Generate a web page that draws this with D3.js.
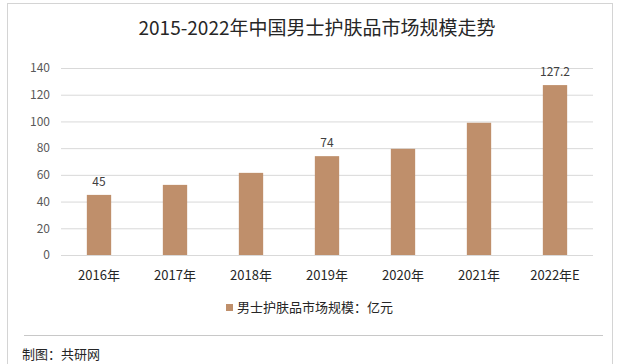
<!DOCTYPE html>
<html>
<head>
<meta charset="utf-8">
<script src="https://cdn.jsdelivr.net/npm/d3@7"></script>
<style>
  body { margin: 0; background: #fff; }
  svg { display: block; font-family: "Noto Sans CJK SC", "Noto Sans", sans-serif; }
  .axis-label { fill: #595959; font-size: 12px; }
</style>
</head>
<body>
<div id="chart"></div>
<script>
// data
const years = ["2016年", "2017年", "2018年", "2019年", "2020年", "2021年", "2022年E"];
const values = [45, 52.5, 61.5, 74, 79.5, 99, 127.2];
const labelled = [45, null, null, 74, null, null, 127.2];   // only these show data labels
const yTicks = [0, 20, 40, 60, 80, 100, 120, 140];

const width = 619, height = 364;
const barColour = "#bf8f6b";
const gridColour = "#d9d9d9";

const svg = d3.select("#chart")
    .append("svg")
    .attr("width", width)
    .attr("height", height);

// outer frame + footer separator
svg.append("rect")
    .attr("x", 7.5).attr("y", 3.5)
    .attr("width", 605).attr("height", 370)
    .attr("fill", "none")
    .attr("stroke", "#d4d4d4");

svg.append("line")
    .attr("x1", 24).attr("x2", 603)
    .attr("y1", 335.5).attr("y2", 335.5)
    .attr("stroke", "#c8c8c8");

// title
svg.append("text")
    .text("2015-2022年中国男士护肤品市场规模走势")
    .attr("x", 317)
    .attr("y", 35)
    .attr("text-anchor", "middle")
    .attr("fill", "#262626")
    .style("font-size", "19px");

// scales
const xScale = d3.scaleBand()
    .domain(years)
    .range([61, 593])
    .paddingInner(0.68)
    .paddingOuter(0.34);

const yScale = d3.scaleLinear()
    .domain([0, 140])
    .range([255, 68]);

// gridlines
svg.append("g")
    .attr("transform", "translate(61,0)")
    .call(d3.axisLeft(yScale).tickValues(yTicks).tickSize(-532).tickFormat(""))
    .call(g => g.select(".domain").remove())
    .call(g => g.selectAll(".tick line").attr("stroke", gridColour));

// y labels
svg.append("g")
    .attr("transform", "translate(50,0)")
    .call(d3.axisLeft(yScale).tickValues(yTicks).tickSize(0).tickPadding(0))
    .call(g => g.select(".domain").remove())
    .call(g => g.selectAll("text")
        .attr("fill", "#595959")
        .style("font-size", "12px")
        .style("font-family", "'Noto Sans CJK SC', sans-serif"));

// bars
svg.selectAll("rect.bar")
    .data(values)
    .join("rect")
        .attr("class", "bar")
        .attr("x", (d, i) => xScale(years[i]))
        .attr("y", d => yScale(d))
        .attr("width", xScale.bandwidth())
        .attr("height", d => yScale(0) - yScale(d))
        .attr("fill", barColour);

// data labels
svg.selectAll("text.value")
    .data(labelled)
    .join("text")
        .attr("class", "value")
        .filter(d => d !== null)
        .text(d => d)
        .attr("x", (d, i) => xScale(years[labelled.indexOf(d)]) + xScale.bandwidth() / 2)
        .attr("y", d => yScale(d) - 9)
        .attr("text-anchor", "middle")
        .attr("fill", "#404040")
        .style("font-size", "12px");

// bottom axis
svg.append("g")
    .attr("transform", "translate(0,255)")
    .call(d3.axisBottom(xScale).tickSize(0).tickPadding(16))
    .call(g => g.select(".domain").attr("stroke", gridColour).attr("d", "M61,0.5H593"))
    .call(g => g.selectAll("text")
        .attr("fill", "#262626")
        .style("font-size", "13px")
        .style("font-family", "'Noto Sans CJK SC', sans-serif"));

// legend
svg.append("rect")
    .attr("x", 226).attr("y", 304)
    .attr("width", 7).attr("height", 7)
    .attr("fill", barColour);

svg.append("text")
    .text("男士护肤品市场规模：亿元")
    .attr("x", 237)
    .attr("y", 312)
    .attr("fill", "#262626")
    .style("font-size", "13px");

// source
svg.append("text")
    .text("制图：共研网")
    .attr("x", 22)
    .attr("y", 359)
    .attr("fill", "#262626")
    .style("font-size", "13px");
</script>
</body>
</html>
